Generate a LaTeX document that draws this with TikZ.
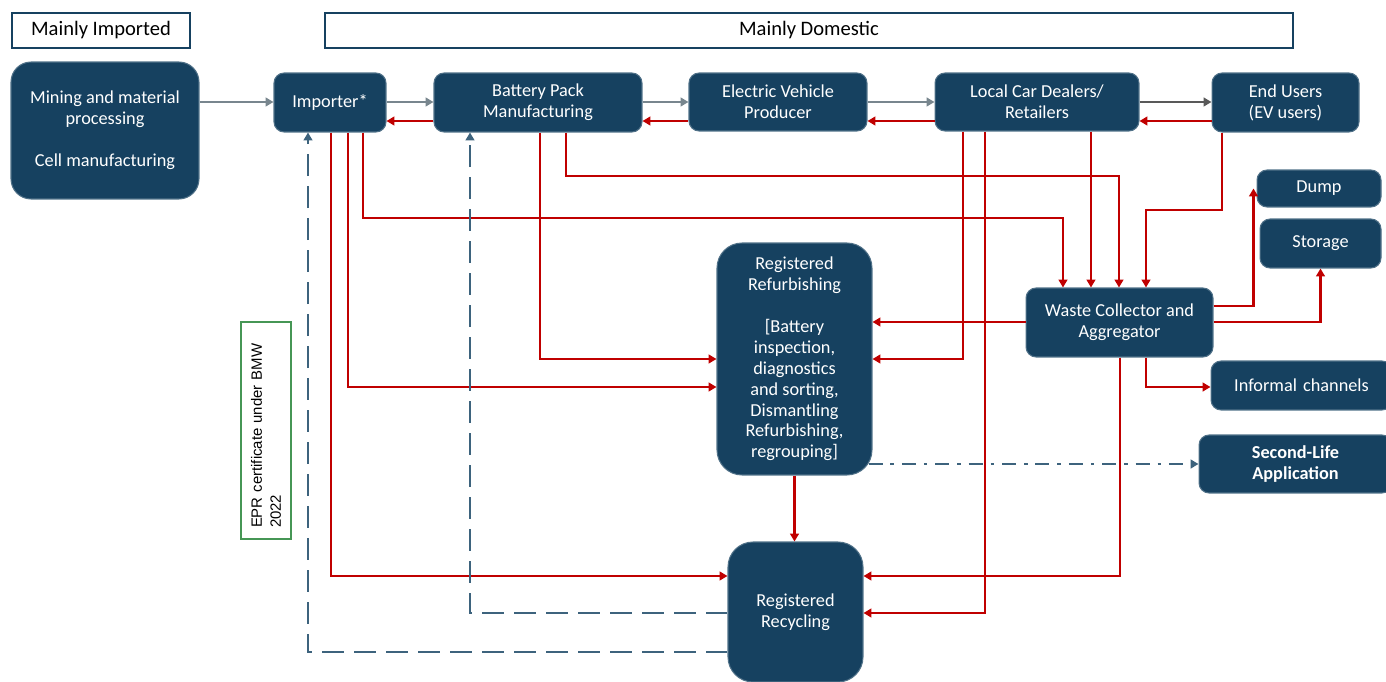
\documentclass[tikz,border=0pt]{standalone}
\usepackage{fontspec}
\setmainfont{Carlito}
\newfontfamily\eprfont{Liberation Sans}
\usetikzlibrary{shapes, positioning, calc, arrows.meta}

\definecolor{boxblue}{RGB}{22,65,96}
\definecolor{flowred}{RGB}{192,0,0}
\definecolor{fwdgrey}{RGB}{120,134,142}
\definecolor{fwddark}{RGB}{89,89,89}
\definecolor{retblue}{RGB}{61,99,125}
\definecolor{eprgreen}{RGB}{70,150,85}

\begin{document}
\begin{tikzpicture}[x=0.02cm, y=-0.02cm,
  flowbox/.style={draw=boxblue!75!white, line width=0.6pt, fill=boxblue, text=white, rounded corners=0.2cm,
    align=center, inner sep=0pt, font=\fontsize{10.4}{11.9}\selectfont},
  hdrbox/.style={draw=boxblue, line width=0.7pt, fill=white, inner sep=0pt, font=\fontsize{11.7}{14}\selectfont},
  eprbox/.style={draw=eprgreen, line width=1.2pt, fill=white, inner sep=0pt, align=left,
    font=\eprfont\fontsize{8.5}{10.8}\selectfont},
  fwd/.style={draw=fwdgrey, line width=1.4pt, -{Triangle[length=4.5pt,width=5pt]}},
  back/.style={draw=flowred, line width=1.4pt, -{Triangle[length=4.5pt,width=5pt]}},
  ret/.style={draw=retblue, line width=1.4pt, dash pattern=on 12.5pt off 5.7pt, -{Triangle[length=4.5pt,width=5pt]}},
  reuse/.style={draw=retblue, line width=1.4pt, dash pattern=on 8pt off 4.5pt on 2pt off 4.5pt, -{Triangle[length=4.5pt,width=5pt]}}]
  \newcommand\blankline{11.9pt}

  \useasboundingbox (0,0) rectangle (1386,682);

  % headers
  \node[hdrbox, minimum width=3.56cm, minimum height=0.7cm] at (101,30.5) (hdimp) {Mainly Imported};
  \node[hdrbox, minimum width=19.36cm, minimum height=0.7cm] at (809,30.5) (hddom) {Mainly Domestic};

  % supply chain
  \node[flowbox, rounded corners=0.4cm, minimum width=3.76cm, minimum height=2.74cm] at (105,130.5) (mining)
    {Mining and material\\processing\\[\blankline]Cell manufacturing};
  \node[flowbox, minimum width=2.24cm, minimum height=1.18cm] at (330,102.5) (imp) {Importer*};
  \node[flowbox, minimum width=4.16cm, minimum height=1.18cm] at (538,102.5) (bpm) {Battery Pack\\Manufacturing};
  \node[flowbox, minimum width=3.56cm, minimum height=1.16cm] at (778,102) (evp) {Electric Vehicle\\Producer};
  \node[flowbox, minimum width=4.08cm, minimum height=1.16cm] at (1037,102) (dlr) {Local Car Dealers/\\Retailers};
  \node[flowbox, minimum width=2.94cm, minimum height=1.18cm] at (1285.5,102.5) (usr) {End Users\\(EV users)};

  % end of life
  \node[flowbox, minimum width=2.48cm, minimum height=0.74cm] at (1319,188.5) (dump) {Dump};
  \node[flowbox, minimum width=2.42cm, minimum height=0.98cm] at (1320.5,243.5) (stor) {Storage};
  \node[flowbox, minimum width=3.74cm, minimum height=1.38cm] at (1119.5,322.5) (wc) {Waste Collector and\\Aggregator};
  \node[flowbox, minimum width=3.62cm, minimum height=0.98cm, text width=3.5cm] at (1301.5,385.5) (inf) {Informal channels};
  \node[flowbox, minimum width=3.86cm, minimum height=1.16cm, text width=3.7cm, font=\bfseries\fontsize{10.4}{11.9}\selectfont]
    at (1295.5,464) (sla) {Second-Life\\Application};
  \node[flowbox, rounded corners=0.5cm, minimum width=3.1cm, minimum height=4.64cm] at (794.5,359) (refurb)
    {Registered\\Refurbishing\\[\blankline]{[}Battery\\inspection,\\diagnostics\\and sorting,\\Dismantling\\Refurbishing,\\regrouping{]}};
  \node[flowbox, rounded corners=0.5cm, minimum width=2.7cm, minimum height=2.8cm] at (795.5,612) (recyc)
    {Registered\\Recycling};

  \node[eprbox, rotate=90, minimum width=4.34cm, minimum height=1.0cm, text width=3.9cm] at (266,430.5) (epr)
    {EPR certificate under BMW\\2022};

  % forward flow
  \draw[fwd] (mining.east |- 0,102) -- (imp.west |- 0,102);
  \foreach \from/\to in {imp/bpm, bpm/evp, evp/dlr}
    \draw[fwd] (\from.east |- 0,102) -- (\to.west |- 0,102);
  \draw[fwd, draw=fwddark] (dlr.east |- 0,102) -- (usr.west |- 0,102);

  % take back
  \foreach \from/\to in {bpm/imp, evp/bpm, dlr/evp, usr/dlr}
    \draw[back] (\from.west |- 0,121) -- (\to.east |- 0,121);

  \draw[back] (331,0 |- imp.south) |- (recyc.west |- 0,576);
  \draw[back] (348,0 |- imp.south) |- (refurb.west |- 0,387);
  \draw[back] (363,0 |- imp.south) -- (363,218) -| (1063,0 |- wc.north);
  \draw[back] (540,0 |- bpm.south) |- (refurb.west |- 0,359);
  \draw[back] (566,0 |- bpm.south) -- (566,176) -| (1119,0 |- wc.north);
  \draw[back] (963,0 |- dlr.south) |- (refurb.east |- 0,359);
  \draw[back] (985,0 |- dlr.south) |- (recyc.east |- 0,613);
  \draw[back] (1091,0 |- dlr.south) -- (1091,0 |- wc.north);
  \draw[back] (1222,0 |- usr.south) -- (1222,210) -| (1146,0 |- wc.north);

  \draw[back] (wc.west |- 0,322) -- (refurb.east |- 0,322);
  \draw[back] (wc.east |- 0,306) -| ([xshift=-0.06cm]dump.west);
  \draw[back] (wc.east |- 0,322) -| (stor.south);
  \draw[back] (1146,0 |- wc.south) |- (inf.west |- 0,387);
  \draw[back] (1120,0 |- wc.south) |- (recyc.east |- 0,576);
  \draw[back] (refurb.south) -- (refurb.south |- recyc.north);

  % second life
  \draw[reuse] ([xshift=-0.08cm]refurb.east |- sla.west) -- (sla.west);

  % returns from recycling
  \draw[ret] (recyc.west |- 0,613) -| (470,0 |- bpm.south);
  \draw[ret] (recyc.west |- 0,652) -| (308,0 |- imp.south);
\end{tikzpicture}
\end{document}
